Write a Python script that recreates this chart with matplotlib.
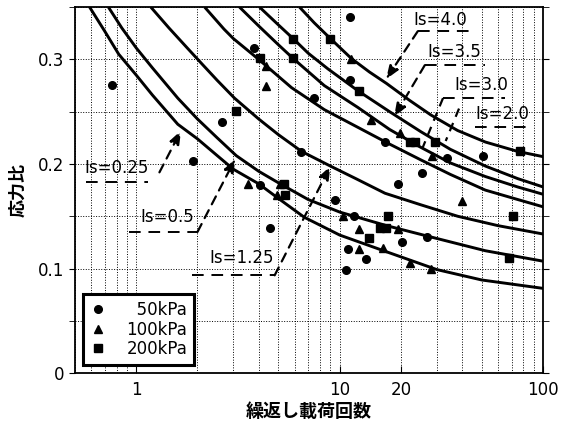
import numpy as np
import matplotlib.pyplot as plt
from matplotlib.ticker import FixedLocator, FixedFormatter, NullFormatter

plt.rcParams['font.family'] = ['Liberation Sans Narrow', 'DejaVu Sans']

# curves (number of cycles N, stress ratio)
is_labels = ['Is=0.25', 'Is=0.5', 'Is=1.25', 'Is=2.0', 'Is=3.0', 'Is=3.5', 'Is=4.0']
n_c1 = [0.59, 0.7, 0.82, 1.0, 1.2, 1.6, 2.0, 2.5, 3.0, 4.0, 5.0, 6.7, 10, 17, 30, 50, 100]
s_c1 = [0.350, 0.327, 0.305, 0.285, 0.266, 0.238, 0.224, 0.208, 0.195, 0.181, 0.167, 0.149, 0.132, 0.116, 0.099, 0.089, 0.081]
n_c2 = [0.73, 0.85, 1.0, 1.2, 1.6, 2.0, 2.5, 3.1, 4.0, 5.1, 7.0, 10, 17, 27, 52, 100]
s_c2 = [0.350, 0.330, 0.311, 0.292, 0.263, 0.243, 0.225, 0.208, 0.193, 0.181, 0.166, 0.154, 0.141, 0.131, 0.117, 0.107]
n_c3 = [1.18, 1.45, 1.8, 2.12, 2.5, 3.04, 4.0, 5.0, 6.5, 9.0, 12, 16.7, 25, 38, 60, 100]
s_c3 = [0.350, 0.330, 0.310, 0.295, 0.280, 0.263, 0.243, 0.228, 0.212, 0.198, 0.186, 0.172, 0.161, 0.150, 0.141, 0.133]
n_c4 = [2.17, 2.7, 3.0, 4.0, 5.8, 8.4, 12.3, 17.6, 25, 35, 52, 75, 100]
s_c4 = [0.350, 0.329, 0.320, 0.300, 0.273, 0.252, 0.235, 0.219, 0.204, 0.190, 0.175, 0.166, 0.159]
n_c5 = [3.22, 4.0, 5.0, 5.9, 8.4, 12.3, 17.6, 25, 35, 52, 75, 100]
s_c5 = [0.350, 0.332, 0.314, 0.301, 0.275, 0.254, 0.233, 0.216, 0.201, 0.188, 0.178, 0.171]
n_c6 = [4.04, 5.0, 5.9, 7.0, 8.75, 12.3, 17.6, 25, 35, 52, 75, 100]
s_c6 = [0.350, 0.333, 0.320, 0.306, 0.291, 0.270, 0.250, 0.231, 0.214, 0.198, 0.186, 0.178]
n_c7 = [6.35, 7.5, 9.0, 11.4, 14, 17, 22, 28, 38, 52, 75, 100]
s_c7 = [0.350, 0.335, 0.320, 0.301, 0.288, 0.277, 0.261, 0.247, 0.232, 0.221, 0.212, 0.207]

# test results
n_50 = [0.76, 1.91, 2.63, 3.81, 4.04, 4.52, 6.49, 7.46, 9.44, 11.2, 11.2, 10.7, 10.98, 11.8, 13.5, 16.7, 19.3, 20.3, 25.3, 26.8, 33.6, 50.9]
s_50 = [0.276, 0.203, 0.240, 0.311, 0.180, 0.139, 0.211, 0.263, 0.166, 0.341, 0.280, 0.099, 0.119, 0.150, 0.109, 0.221, 0.181, 0.125, 0.191, 0.130, 0.206, 0.208]
n_100 = [4.36, 4.36, 3.55, 5.07, 4.9, 10.4, 12.5, 12.4, 16.4, 19.4, 22.2, 28.0, 39.7, 14.2, 19.8, 28.3, 11.4]
s_100 = [0.294, 0.275, 0.181, 0.181, 0.170, 0.150, 0.138, 0.119, 0.120, 0.138, 0.105, 0.100, 0.165, 0.242, 0.230, 0.208, 0.300]
n_200 = [3.1, 4.04, 5.89, 5.89, 8.93, 12.5, 5.4, 5.3, 13.9, 15.7, 16.9, 17.3, 22.2, 23.5, 29.4, 71, 68, 77]
s_200 = [0.251, 0.301, 0.320, 0.301, 0.320, 0.270, 0.170, 0.181, 0.1295, 0.139, 0.139, 0.150, 0.221, 0.221, 0.2215, 0.150, 0.110, 0.212]

fig = plt.figure(figsize=(5.64, 4.22), dpi=100)
ax = fig.add_axes([0.133, 0.116, 0.830, 0.867])

curves = [(n_c1, s_c1), (n_c2, s_c2), (n_c3, s_c3), (n_c4, s_c4),
          (n_c5, s_c5), (n_c6, s_c6), (n_c7, s_c7)]
for n, s in curves:
    ax.plot(n, s, 'k-', lw=2.1, solid_capstyle='butt', zorder=3)

ax.plot(n_50, s_50, 'ko', ms=5.5, ls='none', label='\u200750kPa', zorder=4)
ax.plot(n_100, s_100, 'k^', ms=5.5, ls='none', label='100kPa', zorder=4)
ax.plot(n_200, s_200, 'ks', ms=5.5, ls='none', label='200kPa', zorder=4)

ax.set_xscale('log')
ax.set_xlim(0.5, 100)
ax.set_ylim(0, 0.35)

xminor = [0.5, 0.6, 0.7, 0.8, 0.9] + list(range(2, 10)) + list(range(20, 100, 10))
ax.xaxis.set_major_locator(FixedLocator([1, 10, 20, 100]))
ax.xaxis.set_major_formatter(FixedFormatter(['1', '10', '20', '100']))
ax.xaxis.set_minor_locator(FixedLocator(xminor))
ax.xaxis.set_minor_formatter(NullFormatter())
ax.yaxis.set_major_locator(FixedLocator([0, 0.1, 0.2, 0.3]))
ax.yaxis.set_major_formatter(FixedFormatter(['0', '0.1', '0.2', '0.3']))
ax.yaxis.set_minor_locator(FixedLocator([0.05, 0.15, 0.25, 0.35]))

ax.grid(which='both', ls=':', color='k', lw=0.7)
ax.tick_params(axis='x', which='major', direction='in', length=5, labelsize=12, pad=6)
ax.tick_params(axis='x', which='minor', length=0)
ax.tick_params(axis='y', which='both', direction='out', length=4, labelsize=12, right=True)
for sp in ax.spines.values():
    sp.set_linewidth(1.3)

ax.set_xlabel('繰返し載荷回数', family=['Noto Sans CJK JP'], fontsize=13, fontweight='bold', labelpad=2)
ax.set_ylabel('応力比', family=['Noto Sans CJK JP'], fontsize=13, fontweight='bold', labelpad=8)

# Is labels: text position, underline, leader line
txt_pos = [(0.555, 0.196), (1.05, 0.149), (2.29, 0.110), (46.3, 0.248), (36.5, 0.276), (27.1, 0.307), (22.9, 0.338)]
under = [(0.565, 1.14, 0.183), (0.92, 2.0, 0.135), (1.89, 4.79, 0.0935), (46.3, 88.4, 0.235),
         (32.2, 65, 0.263), (26.2, 51.8, 0.2945), (24.2, 45, 0.327)]
lead_from = [(1.30, 0.192), (2.0, 0.135), (4.79, 0.0935), (38.6, 0.253), (32.2, 0.263), (26.2, 0.2945), (24.2, 0.327)]
lead_to = [(1.66, 0.232), (3.07, 0.205), (9.0, 0.198), (33.2, 0.222), (25.5, 0.215), (18.5, 0.245), (16.9, 0.281)]
heads = [True, True, True, False, False, True, True]

for lab, tp, u, lf, lt, h in zip(is_labels, txt_pos, under, lead_from, lead_to, heads):
    ax.text(tp[0], tp[1], lab, fontsize=12, va='center', ha='left', zorder=5)
    ax.plot([u[0], u[1]], [u[2], u[2]], color='k', lw=1.4, dashes=(6, 4), zorder=5)
    if h:
        ax.annotate('', xy=lt, xytext=lf,
                    arrowprops=dict(arrowstyle='-|>,head_length=0.8,head_width=0.3',
                                    color='k', lw=1.6, ls=(0, (4, 3)), shrinkA=0, shrinkB=0),
                    zorder=5)
    else:
        ax.plot([lf[0], lt[0]], [lf[1], lt[1]], color='k', lw=1.6, dashes=(4, 3), zorder=5)

leg = ax.legend(loc='lower left', bbox_to_anchor=(0.017, 0.022), borderaxespad=0,
                fontsize=12, fancybox=False, edgecolor='k', framealpha=1,
                handletextpad=1.2, labelspacing=0.1, borderpad=0.4, handlelength=1.0)
leg.get_frame().set_linewidth(2.2)
leg.set_zorder(6)

fig.savefig('out.png', dpi=100)
